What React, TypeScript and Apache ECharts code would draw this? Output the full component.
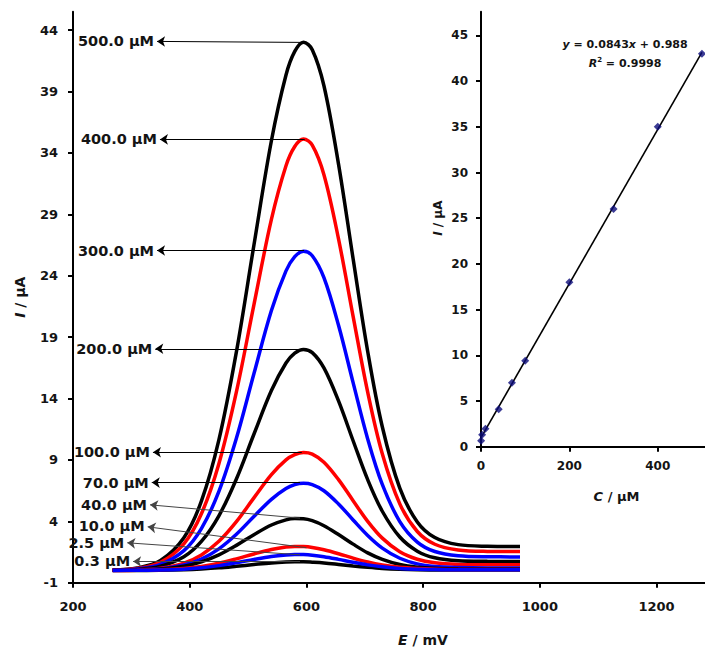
import React, { useEffect, useRef } from "react";
import * as echarts from "echarts";

// ---------- data ----------
const E_MV = [268, 310, 350, 390, 420, 450, 480, 510, 540, 565, 580, 595, 610, 630, 655, 680, 705, 730, 760, 790, 820, 860, 910, 966];

const I_500 = [0.04, 0.2, 0.81, 2.66, 5.64, 10.63, 17.8, 26.48, 34.99, 40.35, 42.27, 43.02, 42.41, 39.47, 33.09, 25.38, 17.83, 11.7, 6.7, 3.95, 2.68, 2.1, 1.97, 1.95];
const I_400 = [0.03, 0.16, 0.66, 2.17, 4.61, 8.69, 14.54, 21.63, 28.58, 32.95, 34.52, 35.13, 34.63, 32.22, 27.0, 20.69, 14.52, 9.5, 5.42, 3.17, 2.13, 1.66, 1.55, 1.54];
const I_300 = [0.02, 0.12, 0.49, 1.61, 3.41, 6.43, 10.76, 16.01, 21.16, 24.39, 25.55, 26.0, 25.63, 23.84, 19.96, 15.29, 10.71, 7.0, 3.98, 2.31, 1.54, 1.19, 1.11, 1.1];
const I_200 = [0.02, 0.08, 0.34, 1.11, 2.36, 4.45, 7.45, 11.09, 14.65, 16.89, 17.69, 18.0, 17.74, 16.49, 13.8, 10.56, 7.39, 4.82, 2.72, 1.57, 1.03, 0.79, 0.74, 0.73];
const I_100 = [0.01, 0.04, 0.18, 0.59, 1.26, 2.37, 3.97, 5.91, 7.8, 9.0, 9.43, 9.6, 9.47, 8.81, 7.39, 5.68, 4.0, 2.63, 1.52, 0.91, 0.62, 0.49, 0.46, 0.46];
const I_70 = [0.01, 0.03, 0.13, 0.44, 0.93, 1.76, 2.95, 4.39, 5.79, 6.67, 6.99, 7.1, 6.99, 6.49, 5.41, 4.11, 2.85, 1.82, 0.99, 0.53, 0.32, 0.23, 0.2, 0.2];
const I_40 = [0.01, 0.03, 0.11, 0.34, 0.7, 1.27, 2.04, 2.91, 3.7, 4.12, 4.23, 4.21, 4.05, 3.64, 2.92, 2.14, 1.43, 0.9, 0.48, 0.26, 0.17, 0.13, 0.12, 0.12];
const I_10 = [0.0, 0.01, 0.05, 0.16, 0.32, 0.58, 0.94, 1.34, 1.7, 1.9, 1.95, 1.94, 1.87, 1.68, 1.36, 1.0, 0.68, 0.44, 0.25, 0.15, 0.1, 0.08, 0.08, 0.08];
const I_2_5 = [0.0, 0.01, 0.03, 0.1, 0.21, 0.39, 0.62, 0.89, 1.13, 1.26, 1.3, 1.29, 1.24, 1.12, 0.9, 0.66, 0.45, 0.29, 0.16, 0.09, 0.07, 0.05, 0.05, 0.05];
const I_0_3 = [0.0, 0.0, 0.02, 0.06, 0.12, 0.21, 0.34, 0.48, 0.61, 0.68, 0.7, 0.7, 0.67, 0.61, 0.49, 0.36, 0.25, 0.16, 0.09, 0.05, 0.04, 0.03, 0.03, 0.03];

const CONC_LABELS = ["500.0 µM", "400.0 µM", "300.0 µM", "200.0 µM", "100.0 µM", "70.0 µM", "40.0 µM", "10.0 µM", "2.5 µM", "0.3 µM"];
const CURVES = [I_500, I_400, I_300, I_200, I_100, I_70, I_40, I_10, I_2_5, I_0_3];

// calibration inset
const C_UM = [0.3, 2.5, 10, 40, 70, 100, 200, 300, 400, 500];
const I_PEAK = [0.64, 1.3, 1.96, 4.1, 7.0, 9.4, 18.0, 26.0, 35.0, 43.0];
const SLOPE = 0.0843;
const INTERCEPT = 0.988;
const R2 = "0.9998";

// tick labels
const E_TICKS = [200, 400, 600, 800, 1000, 1200];
const I_TICKS = [-1, 4, 9, 14, 19, 24, 29, 34, 39, 44];
const C_TICKS = [0, 200, 400];
const IC_TICKS = [0, 5, 10, 15, 20, 25, 30, 35, 40, 45];

// ---------- styles / layout ----------
const COLORS = ["#000000", "#ff0000", "#0000ff", "#000000", "#ff0000", "#0000ff", "#000000", "#ff0000", "#0000ff", "#000000"];
// arrow annotations: [from (peak), to (label tip)] in data coords
const ARROWS = [
  [[592, 43.0], [344, 43.08]],
  [[597, 35.1], [349, 35.1]],
  [[596, 26.05], [344, 26.05]],
  [[596, 18.05], [341, 18.05]],
  [[592, 9.62], [337, 9.62]],
  [[589, 7.15], [335, 7.15]],
  [[589, 4.26], [332, 5.34]],
  [[600, 1.85], [328, 3.55]],
  [[589, 1.27], [293, 2.25]],
  [[589, 0.72], [303, 0.73]],
];
const GREY_ARROWS = [6, 7, 8, 9];
const FONT = "DejaVu Sans";
const TXT = "#141414";

export default function App() {
  const ref = useRef<HTMLDivElement>(null);
  useEffect(() => {
    if (!ref.current) return;
    const chart = echarts.init(ref.current, null, { renderer: "svg" });
    const labelStyle = (size: number, margin: number) => ({
      fontFamily: FONT,
      fontWeight: "bold",
      fontSize: size,
      color: TXT,
      margin,
      formatter: (v: number) => String(v),
    });
    const nameStyle = (size: number, padding: number[]) => ({
      fontFamily: FONT,
      fontWeight: "bold",
      fontSize: size,
      color: TXT,
      padding,
      rich: {
        i: { fontFamily: FONT, fontWeight: "bold", fontStyle: "italic", fontSize: size, color: TXT },
        n: { fontFamily: FONT, fontWeight: "bold", fontSize: size, color: TXT },
      },
    });
    const axisLine = { show: true, onZero: false, lineStyle: { color: "#000", width: 2 } };

    const order = [9, 0, 1, 2, 3, 4, 5, 6, 7, 8];
    const curveSeries: any[] = order.map((k) => ({
      type: "line",
      xAxisIndex: 0,
      yAxisIndex: 0,
      name: CONC_LABELS[k],
      data: E_MV.map((x, j) => [x, CURVES[k][j]]),
      smooth: 0.35,
      showSymbol: false,
      symbol: "none",
      lineStyle: { color: COLORS[k], width: 3.5 },
      itemStyle: { color: COLORS[k] },
      z: 2,
    }));

    curveSeries[1].markLine = {
      silent: true,
      z: 6,
      symbol: ["none", "arrow"],
      symbolSize: 8,
      itemStyle: { color: "#000" },
      lineStyle: { color: "#000", width: 1, type: "solid" },
      label: {
        show: true,
        position: "end",
        distance: 3,
        formatter: "{b}",
        fontFamily: FONT,
        fontWeight: "bold",
        fontSize: 14.5,
        color: TXT,
      },
      emphasis: { disabled: true },
      data: ARROWS.map((a, k) => [
        {
          name: CONC_LABELS[k],
          coord: a[0],
          lineStyle: GREY_ARROWS.includes(k) ? { color: "#444", width: 1 } : { color: "#000", width: 1 },
          itemStyle: { color: "#000" },
        },
        { coord: a[1], itemStyle: { color: "#000" } },
      ]),
    };

    const option: any = {
      animation: false,
      backgroundColor: "#ffffff",
      grid: [
        { left: 73, top: 11.7, right: 0, bottom: 68.3, containLabel: false, outerBoundsMode: "none" },
        { left: 481, top: 11.7, right: 0, bottom: 204.3, containLabel: false, outerBoundsMode: "none" },
      ],
      xAxis: [
        {
          gridIndex: 0,
          type: "value",
          min: 200,
          max: 1283,
          axisLine,
          axisTick: { show: true, inside: false, length: 5, customValues: E_TICKS, lineStyle: { color: "#000", width: 2 } },
          axisLabel: { ...labelStyle(13, 17), customValues: E_TICKS },
          splitLine: { show: false },
          name: "{i|E}{n| / mV}",
          nameLocation: "middle",
          nameGap: 50,
          nameTextStyle: nameStyle(14, [0, 0, 0, 68]),
        },
        {
          gridIndex: 1,
          type: "value",
          min: 0,
          max: 507,
          axisLine,
          axisTick: { show: true, inside: false, length: 5, customValues: C_TICKS, lineStyle: { color: "#000", width: 2 } },
          axisLabel: { ...labelStyle(12, 13), customValues: C_TICKS },
          splitLine: { show: false },
          name: "{i|C}{n| / µM}",
          nameLocation: "middle",
          nameGap: 43,
          nameTextStyle: nameStyle(13, [0, 0, 0, 47]),
        },
      ],
      yAxis: [
        {
          gridIndex: 0,
          type: "value",
          min: -1,
          max: 45.5,
          axisLine,
          axisTick: { show: true, inside: false, length: 5, customValues: I_TICKS, lineStyle: { color: "#000", width: 2 } },
          axisLabel: { ...labelStyle(13, 15), customValues: I_TICKS },
          splitLine: { show: false },
          name: "{i|I}{n| / µA}",
          nameLocation: "middle",
          nameGap: 46,
          nameTextStyle: nameStyle(14, [0, 0, 0, 0]),
        },
        {
          gridIndex: 1,
          type: "value",
          min: 0,
          max: 47.6,
          axisLine,
          axisTick: { show: true, inside: false, length: 5, customValues: IC_TICKS, lineStyle: { color: "#000", width: 2 } },
          axisLabel: { ...labelStyle(12, 13), customValues: IC_TICKS },
          splitLine: { show: false },
          name: "{i|I}{n| / µA}",
          nameLocation: "middle",
          nameGap: 37,
          nameTextStyle: nameStyle(12, [0, 0, 0, 22]),
        },
      ],
      series: [
        ...curveSeries,
        {
          type: "line",
          xAxisIndex: 1,
          yAxisIndex: 1,
          data: [
            [0, INTERCEPT],
            [500, SLOPE * 500 + INTERCEPT],
          ],
          showSymbol: false,
          symbol: "none",
          lineStyle: { color: "#000", width: 1.6 },
          z: 3,
        },
        {
          type: "scatter",
          xAxisIndex: 1,
          yAxisIndex: 1,
          data: C_UM.map((c, i) => [c, I_PEAK[i]]),
          symbol: "diamond",
          symbolSize: 8,
          itemStyle: { color: "#0b0b7a" },
          z: 4,
        },
      ],
      graphic: [
        {
          type: "text",
          x: 625,
          y: 44,
          z: 10,
          style: {
            text: `{i|y}{n| = ${SLOPE}}{i|x}{n| + ${INTERCEPT}}`,
            align: "center",
            verticalAlign: "middle",
            fill: TXT,
            rich: {
              i: { fontFamily: FONT, fontWeight: "bold", fontStyle: "italic", fontSize: 11, fill: TXT },
              n: { fontFamily: FONT, fontWeight: "bold", fontSize: 11, fill: TXT },
            },
          },
        },
        {
          type: "text",
          x: 625,
          y: 63,
          z: 10,
          style: {
            text: `{i|R}{s|2}{n| = ${R2}}`,
            align: "center",
            verticalAlign: "middle",
            fill: TXT,
            rich: {
              i: { fontFamily: FONT, fontWeight: "bold", fontStyle: "italic", fontSize: 11, fill: TXT },
              s: { fontFamily: FONT, fontWeight: "bold", fontSize: 7, fill: TXT, verticalAlign: "top", padding: [0, 0, 6, 0] },
              n: { fontFamily: FONT, fontWeight: "bold", fontSize: 11, fill: TXT },
            },
          },
        },
      ],
    };
    chart.setOption(option);
    return () => chart.dispose();
  }, []);

  return (
    <div style={{ position: "fixed", left: 0, top: 0, width: 705, height: 651, background: "#fff" }}>
      <div ref={ref} style={{ width: 705, height: 651 }} />
    </div>
  );
}
